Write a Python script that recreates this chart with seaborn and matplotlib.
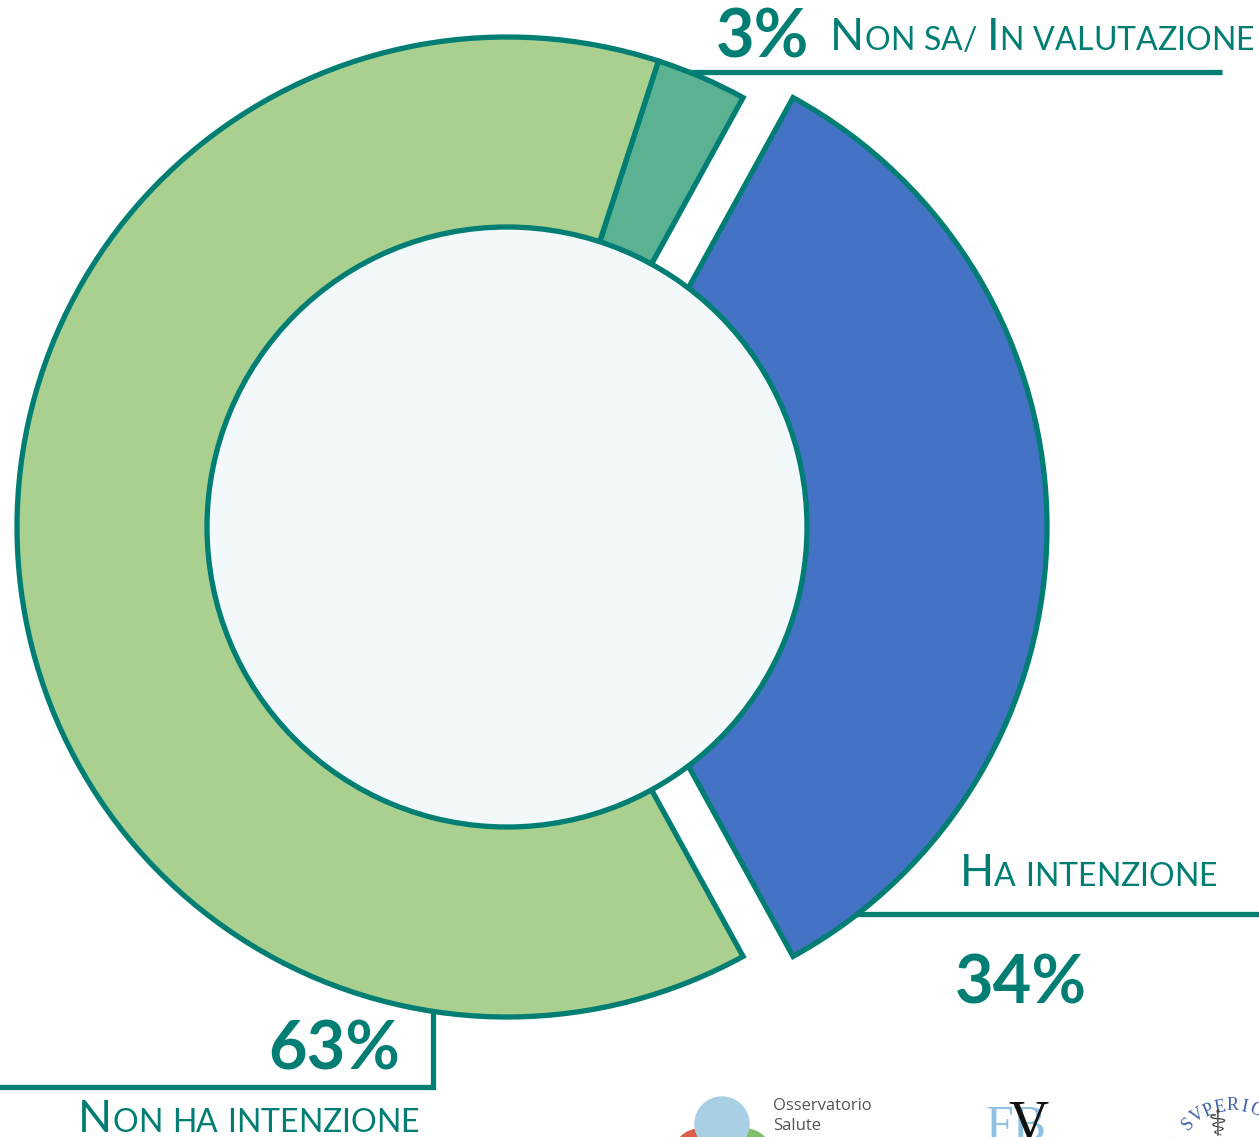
import matplotlib
matplotlib.use("Agg")
import numpy as np
import matplotlib.pyplot as plt
from matplotlib.patches import Circle
import seaborn as sns

# data
labels = ["Ha intenzione", "Non sa/ In valutazione", "Non ha intenzione"]
shares = [34, 3, 63]
pct_labels = ["34%", "3%", "63%"]
colors = ["#4472C4", "#5BB293", "#A9D08E"]

TEAL = "#007E74"
W, H = 1259, 1137

sns.set_theme(style="white")
plt.rcParams["font.family"] = ["Lato", "DejaVu Sans"]

fig = plt.figure(figsize=(W / 100, H / 100), dpi=100)
ax = fig.add_axes([0, 0, 1, 1])


def Y(y):
    # pixel row -> data y (y axis points up)
    return H - y


cx, cy, r_out, r_in = 507, Y(527), 490, 300

# explode is in data units here, as the radius is not 1
wedges, _ = ax.pie(shares, colors=colors, radius=r_out, center=(cx, cy),
                   startangle=-shares[0] / 100 * 180, counterclock=True,
                   explode=[50, 0, 0],
                   wedgeprops=dict(edgecolor=TEAL, linewidth=3.8,
                                   joinstyle="miter"))
for w in wedges:
    w.set_zorder(2)
ax.add_patch(Circle((cx, cy), r_in, facecolor="#F3F9FA", edgecolor=TEAL,
                    linewidth=3.8, zorder=3))

ax.set_xlim(0, W)
ax.set_ylim(0, H)
ax.set_aspect("equal")
ax.axis("off")

renderer = fig.canvas.get_renderer()
BIG, SMALL = 32, 23


def small_caps(x, y, text):
    # fake small caps: capitals at full size, the rest upper-cased smaller
    for i, word in enumerate(text.split(" ")):
        if i:
            x += SMALL * 100 / 72 * 0.3
        for ch in word:
            size = BIG if ch.isupper() else SMALL
            t = ax.text(x, y, ch.upper(), fontsize=size, color=TEAL,
                        ha="left", va="baseline", zorder=5)
            x += t.get_window_extent(renderer).width


# 3% label at the top
ax.plot([683, 1222], [Y(72), Y(72)], color=TEAL, lw=3.8, zorder=1,
        solid_capstyle="butt")
ax.text(716, Y(58), pct_labels[1], fontsize=48, fontweight="bold",
        color=TEAL, ha="left", va="baseline")
small_caps(830, Y(50), labels[1])

# 34% label on the right
ax.plot([855, 1259], [Y(914), Y(914)], color=TEAL, lw=3.8, zorder=1,
        solid_capstyle="butt")
small_caps(960, Y(886), labels[0])
ax.text(955, Y(1003), pct_labels[0], fontsize=48, fontweight="bold",
        color=TEAL, ha="left", va="baseline")

# 63% label bottom left
ax.plot([0, 433, 433], [Y(1087), Y(1087), Y(1010)], color=TEAL, lw=3.8,
        zorder=1, solid_joinstyle="miter")
ax.text(400, Y(1070), pct_labels[2], fontsize=48, fontweight="bold",
        color=TEAL, ha="right", va="baseline")
small_caps(78, Y(1132), labels[2])

# footer logos (rough)
ax.add_patch(Circle((722, Y(1124)), 27, color="#A9CFE5", zorder=1))
ax.add_patch(Circle((700, Y(1156)), 27, color="#D9604F", zorder=0.9))
ax.add_patch(Circle((745, Y(1156)), 27, color="#7FBF6A", zorder=0.9))
ax.text(773, Y(1106), "Osservatorio", fontsize=12, color="#555555",
        family=["Open Sans", "DejaVu Sans"], ha="left", va="center")
ax.text(773, Y(1126), "Salute", fontsize=12, color="#555555",
        family=["Open Sans", "DejaVu Sans"], ha="left", va="center")
ax.text(986, Y(1140), "FB", fontsize=36, color="#8FC1E3",
        family=["Liberation Serif", "DejaVu Serif"], ha="left", va="baseline")
ax.text(1008, Y(1140), "V", fontsize=40, color="#111111",
        family=["Liberation Serif", "DejaVu Serif"], ha="left", va="baseline")

# seal text along an arc
sx, sy, sr = 1232, Y(1168), 62
for ch, ang in zip("TO SVPERIORE", np.linspace(168, 45, 12)):
    a = np.radians(ang)
    ax.text(sx + sr * np.cos(a), sy + sr * np.sin(a), ch, fontsize=13,
            color="#3A62A8", family=["Liberation Serif", "DejaVu Serif"],
            rotation=ang - 90, ha="center", va="center")
ax.text(1218, Y(1126), "\u2695", fontsize=26, color="#444444",
        family=["DejaVu Sans"], ha="center", va="center")

fig.savefig("out.png", dpi=100, facecolor="white")
